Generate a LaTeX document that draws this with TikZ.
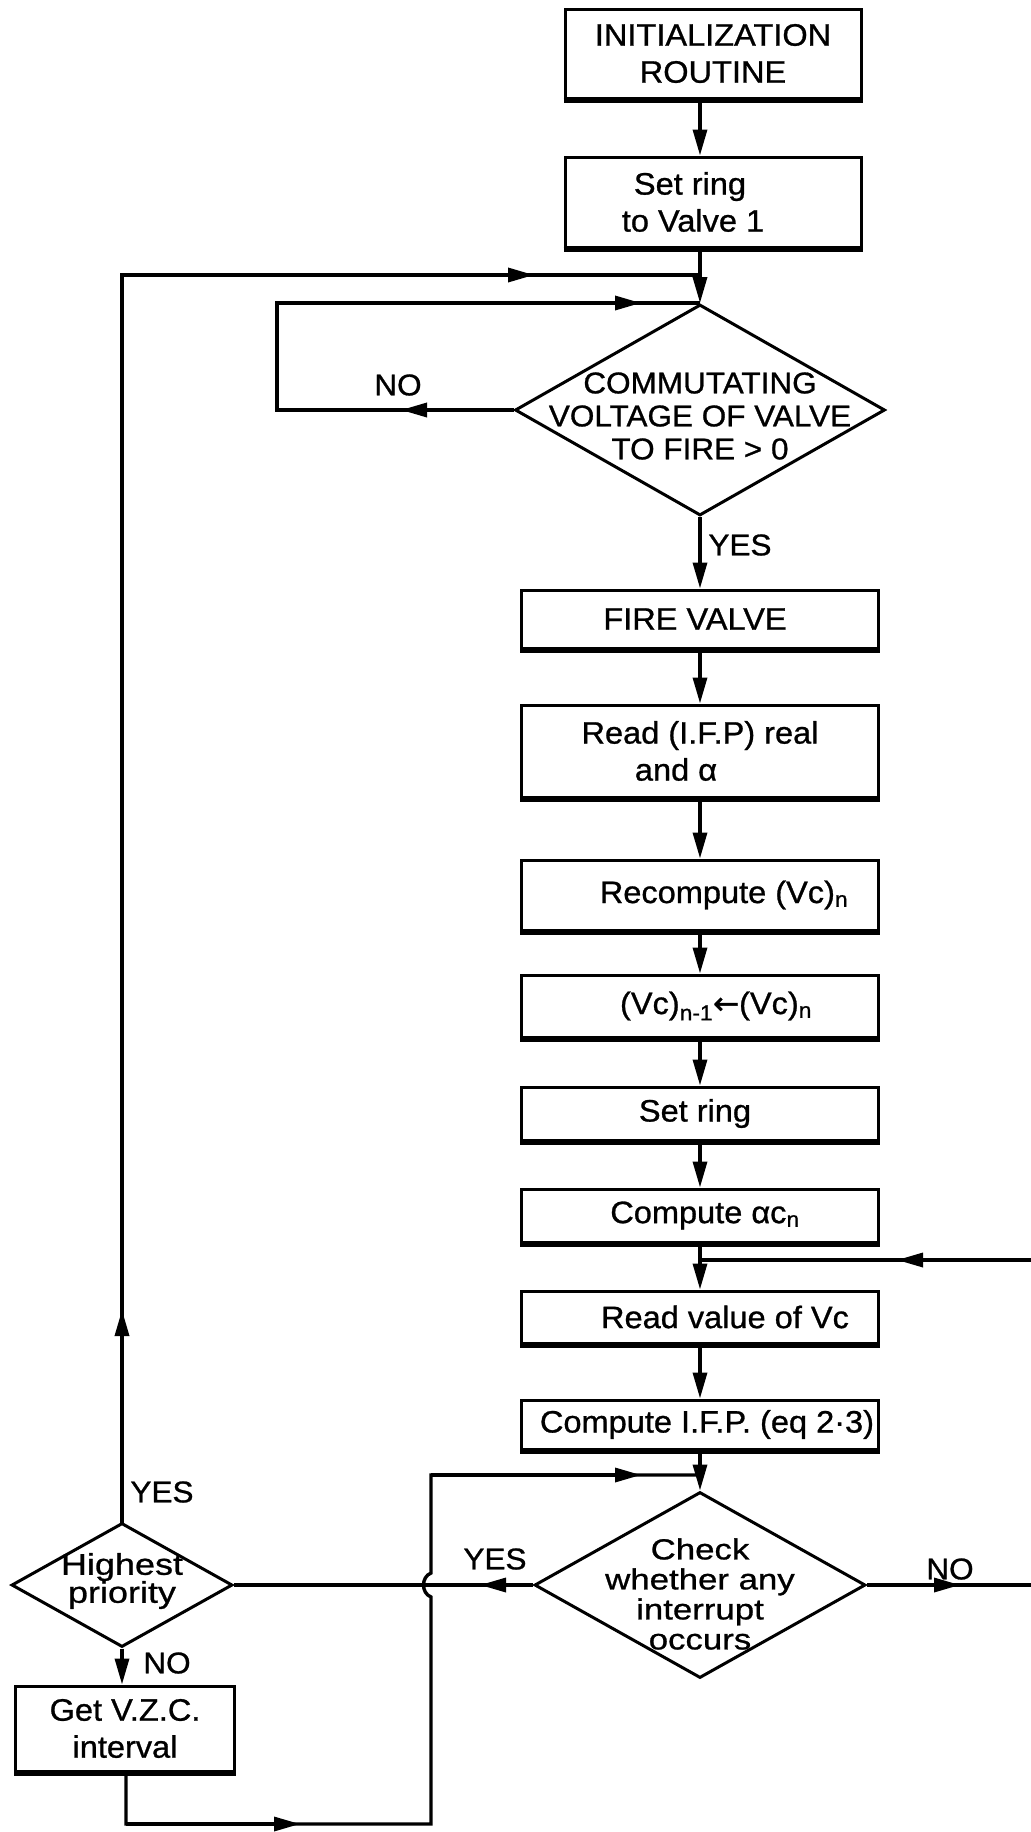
\documentclass[tikz,border=0pt]{standalone}
\usepackage{fontspec}
\setmainfont{Liberation Sans}[FakeBold=0.9,FakeStretch=1.05]
\newfontfamily\widefont{Liberation Sans}[FakeBold=0.9,FakeStretch=1.2]
\newfontfamily\arrowfont{DejaVu Sans}[FakeBold=1.2]
\usetikzlibrary{shapes.geometric,arrows.meta}
\begin{document}
\begin{tikzpicture}[x=1pt,y=-1pt,
  every node/.style={font=\fontsize{31}{37}\selectfont},
  box/.style={draw,line width=3pt,inner sep=0pt,align=center,minimum width=357pt},
  dia/.style={draw,diamond,line width=3pt,inner sep=0pt},
  dtext/.style={align=center,inner sep=0pt},
  lbl/.style={inner sep=0pt,font=\fontsize{30}{36}\selectfont},
  conn/.style={line width=3.4pt},
  arr/.style={conn,-{Triangle[length=26pt,width=14pt]}},
]
\useasboundingbox (0,0) rectangle (1031,1832);

% boxes and decisions
\node[box,minimum width=296pt,minimum height=89pt] (init) at (713,53.5) {INITIALIZATION\\ROUTINE};
\node[box,minimum width=296pt,minimum height=90pt] (ring1) at (713,202) {\hspace*{-46pt}Set ring\\\hspace*{-40pt}to Valve 1};
\node[dia,minimum width=370pt,minimum height=211pt] (d1) at (700,410) {};
\node[dtext,font=\fontsize{30}{33}\selectfont] (d1t) at (700,416) {COMMUTATING\\VOLTAGE OF VALVE\\TO FIRE > 0};
\node[box,minimum height=58pt] (fire) at (700,619) {\hspace*{-10pt}FIRE VALVE};
\node[box,minimum height=92pt] (read) at (700,751) {Read (I.F.P) real\\\hspace*{-48pt}and α};
\node[box,minimum height=70pt] (recomp) at (700,895) {\hspace*{48pt}Recompute (Vc)\textsubscript{n}};
\node[box,minimum height=62pt] (vcn) at (700,1006) {\hspace*{32pt}(Vc)\textsubscript{n-1}{\arrowfont ←}(Vc)\textsubscript{n}};
\node[box,minimum height=53pt] (ring2) at (700,1113.5) {\hspace*{-10pt}Set ring};
\node[box,minimum height=53pt] (comp) at (700,1215.5) {\hspace*{10pt}Compute αc\textsubscript{n}};
\node[box,minimum height=52pt] (readvc) at (700,1317) {\hspace*{50pt}Read value of Vc};
\node[box,minimum height=49pt] (ifp) at (700,1424.5) {\hspace*{14pt}Compute I.F.P. (eq 2·3)};
\node[dia,minimum width=331pt,minimum height=186pt] (d2) at (700,1585) {};
\node[dtext,font=\widefont\fontsize{29}{30}\selectfont] (d2t) at (700,1594) {Check\\whether any\\interrupt\\occurs};
\node[dia,minimum width=221pt,minimum height=124pt] (d3) at (122,1585) {};
\node[dtext,font=\widefont\fontsize{30}{28}\selectfont] (d3t) at (122,1581) {Highest\\priority};
\node[box,minimum width=219pt,minimum height=85pt] (vzc) at (125,1728.5) {Get V.Z.C.\\interval};

% heavier bottom edges of the boxes
\foreach \n in {init,ring1,fire,read,recomp,vcn,ring2,comp,readvc,ifp,vzc}
  \draw[line width=5pt] ([yshift=-1pt]\n.south west) -- ([yshift=-1pt]\n.south east);

% labels
\node[lbl] (no1) at (398,385) {NO};
\node[lbl] (yes1) at (740,545) {YES};
\node[lbl] (yes2) at (162,1492) {YES};
\node[lbl] (yes3) at (495,1559) {YES};
\node[lbl] (no2) at (950,1569) {NO};
\node[lbl] (no3) at (167,1663) {NO};

% coordinates
\coordinate (j1) at (700,275);
\coordinate (oc) at (122,275);
\coordinate (oa) at (534,275);
\coordinate (up) at (122,1310);
\coordinate (ic1) at (277,410);
\coordinate (ic2) at (277,303);
\coordinate (ia) at (401,410);
\coordinate (iaa) at (641,303);
\coordinate (j3) at (700,1260);
\coordinate (fbR) at (1031,1260);
\coordinate (fbA) at (897,1260);
\coordinate (j4) at (700,1475);
\coordinate (ya) at (480,1585);
\coordinate (noA) at (960,1585);
\coordinate (noR) at (1031,1585);
\coordinate (b0) at (126,1771);
\coordinate (b1) at (126,1824);
\coordinate (ba) at (300,1824);
\coordinate (b2) at (431,1824);
\coordinate (bj1) at (431,1597);
\coordinate (bj2) at (431,1573);
\coordinate (lt) at (431,1475);
\coordinate (la) at (641,1475);

% main column
\draw[arr] (init.south -| j1) -- (ring1.north -| j1);
\draw[conn] (ring1.south -| j1) -- (j1);
\draw[arr] (j1) -- (d1.north);
\draw[arr] (d1.south) -- (fire.north);
\draw[arr] (fire.south) -- (read.north);
\draw[arr] (read.south) -- (recomp.north);
\draw[arr] (recomp.south) -- (vcn.north);
\draw[arr] (vcn.south) -- (ring2.north);
\draw[arr] (ring2.south) -- (comp.north);
\draw[conn] (comp.south) -- (j3);
\draw[arr] (j3) -- (readvc.north);
\draw[arr] (readvc.south) -- (ifp.north);
\draw[conn] (ifp.south) -- (j4);
\draw[arr] (j4) -- (d2.north);

% outer loop (YES of highest priority)
\draw[conn,line cap=rect] (d3.north) -- (oc) -- (j1);
\draw[arr] (d3.north) -- (up);
\draw[arr] (oc) -- (oa);

% inner loop (NO of commutating voltage)
\draw[conn] (d1.west) -- (ic1) -- (ic2) -- (ic2 -| j1);
\draw[arr] (d1.west) -- (ia);
\draw[arr] (ic2) -- (iaa);

% feedback from right
\draw[conn] (fbR) -- (j3);
\draw[arr] (fbR) -- (fbA);

% interrupt decision
\draw[conn] (d2.west) -- (d3.east);
\draw[arr] (d2.west) -- (ya);
\draw[conn] (d2.east) -- (noR);
\draw[arr] (d2.east) -- (noA);

% highest priority NO branch
\draw[arr] (d3.south) -- (d3.south |- vzc.north);
\draw[conn] (b0) -- (b1) -- (b2) -- (bj1) .. controls (421,1593) and (421,1577) .. (bj2) -- (lt) -- (j4);
\draw[arr] (b1) -- (ba);
\draw[arr] (lt) -- (la);
\end{tikzpicture}
\end{document}
